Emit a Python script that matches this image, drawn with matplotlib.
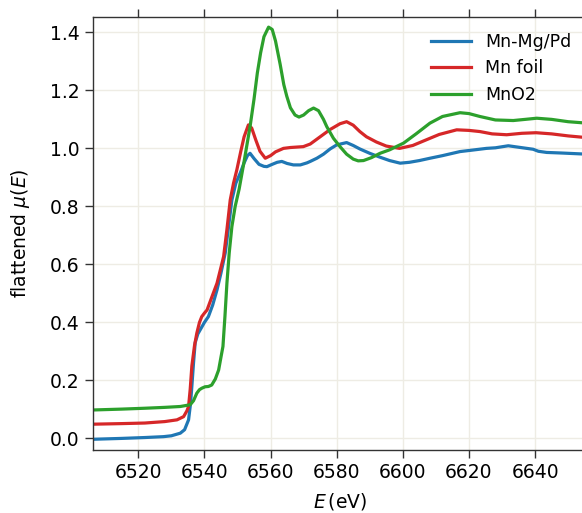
import matplotlib
matplotlib.use('Agg')
import matplotlib.pyplot as plt

# energy (eV) and flattened mu(E)
e_mgpd = [6506.3, 6515, 6522, 6527.6, 6530, 6532.7, 6534, 6535.2, 6535.8, 6536.2,
          6536.7, 6537.2, 6538, 6538.7, 6540, 6541.2, 6542.5, 6543.8, 6545, 6546.3,
          6547.3, 6548.3, 6549.5, 6550.8, 6552, 6553, 6553.8, 6555, 6556.5, 6558,
          6558.9, 6560.5, 6562, 6563.4, 6565, 6566.9, 6569, 6571, 6572, 6574,
          6576, 6578, 6580, 6583, 6585, 6587, 6590, 6593, 6596, 6599.2,
          6602, 6605, 6608.2, 6612, 6617.3, 6621, 6625.3, 6628, 6631.9, 6635,
          6639.4, 6641, 6643.5, 6648, 6655.7]
mu_mgpd = [-0.003, 0.0, 0.003, 0.006, 0.009, 0.018, 0.03, 0.064, 0.12, 0.18,
           0.26, 0.33, 0.36, 0.374, 0.40, 0.42, 0.46, 0.512, 0.57, 0.64,
           0.73, 0.822, 0.88, 0.914, 0.95, 0.975, 0.983, 0.965, 0.945, 0.938,
           0.937, 0.945, 0.952, 0.955, 0.948, 0.943, 0.943, 0.95, 0.955, 0.966,
           0.98, 0.998, 1.012, 1.02, 1.01, 0.998, 0.983, 0.97, 0.958, 0.949,
           0.952, 0.958, 0.966, 0.975, 0.989, 0.994, 1.0, 1.002, 1.009, 1.004,
           0.997, 0.99, 0.986, 0.984, 0.98]

e_foil = [6506.3, 6515, 6522, 6528, 6531.7, 6533.7, 6534.7, 6535.2, 6535.7, 6536.2,
          6537, 6537.7, 6538.5, 6539.2, 6540, 6540.8, 6542, 6543.8, 6545, 6545.8,
          6546.8, 6547.8, 6548.8, 6549.8, 6551, 6552, 6553.3, 6554.3, 6555.5, 6556.8,
          6558.4, 6560, 6561.5, 6563.9, 6566, 6569.9, 6572, 6575, 6578, 6581,
          6583, 6585, 6587, 6589, 6592, 6595, 6599, 6603, 6607.2, 6611,
          6616.3, 6620, 6623.3, 6627, 6631.4, 6636, 6640.3, 6645, 6650, 6655.7]
mu_foil = [0.049, 0.051, 0.053, 0.058, 0.064, 0.075, 0.095, 0.11, 0.17, 0.25,
           0.32, 0.363, 0.40, 0.42, 0.432, 0.443, 0.48, 0.535, 0.59, 0.627,
           0.72, 0.822, 0.88, 0.926, 0.99, 1.04, 1.081, 1.07, 1.03, 0.99,
           0.966, 0.975, 0.988, 1.0, 1.003, 1.006, 1.015, 1.04, 1.065, 1.085,
           1.092, 1.08, 1.058, 1.04, 1.022, 1.008, 1.0, 1.01, 1.03, 1.048,
           1.064, 1.062, 1.058, 1.05, 1.047, 1.052, 1.054, 1.05, 1.043, 1.037]

e_mno2 = [6506.3, 6515, 6522, 6528, 6532.7, 6535.7, 6536.7, 6537.7, 6538.5, 6539.2,
          6540.2, 6541.2, 6542.2, 6543.3, 6544.3, 6545, 6545.6, 6546.2, 6546.8, 6547.5,
          6548.3, 6549.3, 6550.5, 6552, 6553.8, 6555, 6556, 6557, 6558, 6559.4,
          6560.5, 6561.5, 6562.9, 6564, 6564.9, 6566, 6567.4, 6568.6, 6570, 6571.5,
          6573, 6574.5, 6576, 6577, 6579, 6581, 6583, 6585, 6586.5, 6588.1,
          6590.5, 6593.1, 6596, 6600.2, 6604, 6608.2, 6612, 6617.3, 6620, 6623.3,
          6628, 6633.4, 6637, 6640.5, 6645, 6650, 6655.7]
mu_mno2 = [0.098, 0.101, 0.104, 0.107, 0.11, 0.116, 0.13, 0.156, 0.168, 0.173,
           0.178, 0.179, 0.184, 0.205, 0.236, 0.28, 0.317, 0.42, 0.535, 0.64,
           0.73, 0.80, 0.86, 0.955, 1.075, 1.17, 1.26, 1.33, 1.385, 1.418,
           1.41, 1.37, 1.29, 1.22, 1.18, 1.14, 1.115, 1.108, 1.115, 1.13,
           1.139, 1.13, 1.1, 1.075, 1.035, 1.006, 0.98, 0.963, 0.957, 0.958,
           0.968, 0.983, 0.995, 1.018, 1.05, 1.087, 1.11, 1.123, 1.12, 1.11,
           1.098, 1.096, 1.1, 1.104, 1.1, 1.092, 1.087]

x_ticks = [6520, 6540, 6560, 6580, 6600, 6620, 6640]
y_ticks = [0.0, 0.2, 0.4, 0.6, 0.8, 1.0, 1.2, 1.4]

fig = plt.figure(figsize=(5.82, 5.13), dpi=100)
# axes run a little past the right edge of the picture, as in the reference
ax = fig.add_axes([93 / 582, 63 / 513, 494 / 582, 433 / 513])

ax.plot(e_mgpd, mu_mgpd, color='#1f77b4', lw=2.3, label='Mn-Mg/Pd')
ax.plot(e_foil, mu_foil, color='#d62728', lw=2.3, label='Mn foil')
ax.plot(e_mno2, mu_mno2, color='#2ca02c', lw=2.3, label='MnO2')

ax.set_xlim(6506.3, 6655.7)
ax.set_ylim(-0.040, 1.453)
ax.set_xticks(x_ticks)
ax.set_yticks(y_ticks)
ax.set_yticklabels([f"{v:.1f}" for v in y_ticks])

ax.grid(True, color='#eeece4', lw=1.0)
ax.set_axisbelow(True)
for s in ax.spines.values():
    s.set_color('#333333')
    s.set_linewidth(1.0)

ax.tick_params(axis='both', labelsize=13.5, length=6, width=1.0, color='#333333')
ax.tick_params(axis='x', top=True)

ax.set_xlabel('$E\\,$(eV)', fontsize=13.5, labelpad=6)
ax.set_ylabel('flattened $\\mu(E)$', fontsize=13.5, labelpad=13)

ax.legend(loc='upper right', frameon=False, fontsize=12.5, handlelength=2.3)

fig.savefig('out.png', dpi=100)
